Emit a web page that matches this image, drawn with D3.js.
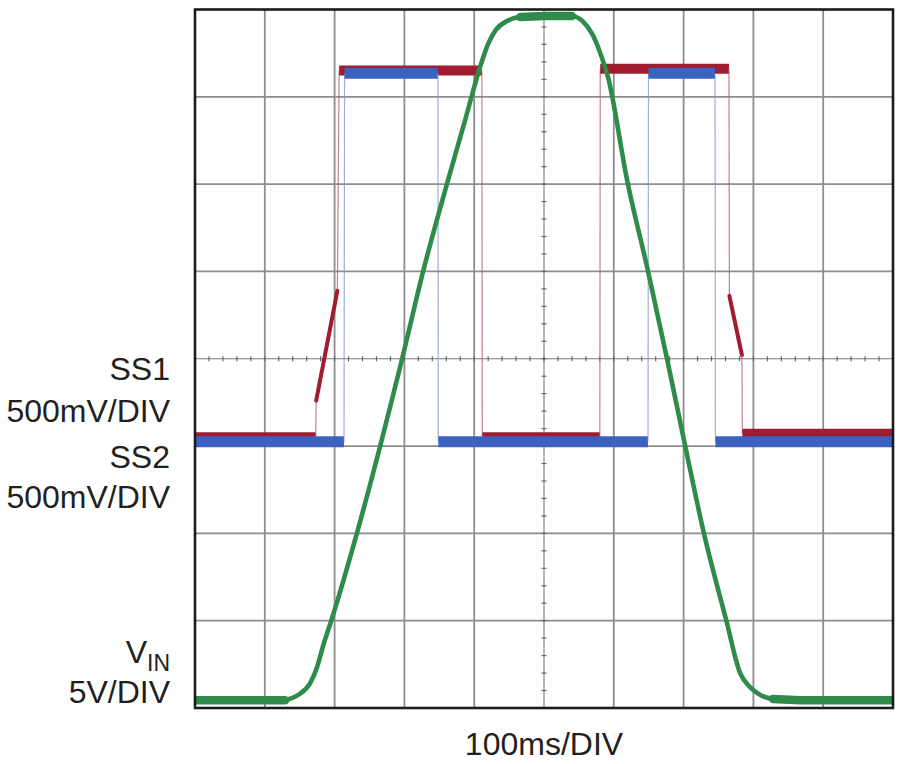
<!DOCTYPE html>
<html><head><meta charset="utf-8">
<script src="https://cdn.jsdelivr.net/npm/d3@7"></script>
<style>
body{margin:0;background:#fff;}
svg{display:block;font-family:"Liberation Sans",Arial,Helvetica,sans-serif;}
</style>
</head><body>
<svg id="chart" width="900" height="764"></svg>
<script>
// ---- data (time in ms, values in volts) ----
const timeTicks = d3.range(0, 1001, 100);   // 100ms/DIV, 10 divisions
const divTicks = d3.range(0, 9, 1);          // 8 vertical divisions
const minorDivs = d3.range(0, 8.001, 0.2);
const minorTimes = d3.range(0, 1000.1, 20);

const ss1 = [[0,0],[173,0],[173.6,0.21],[204,0.84],[206.5,2.10],[411,2.10],[411.6,0],
             [580,0],[580.6,2.11],[765,2.11],[765.6,0.81],[783.6,0.47],[784.2,0.02],[1000,0.02]];
const ss2 = [[0,0],[213.5,0],[214.3,2.11],[348,2.11],[348.6,0],
             [649,0],[649.7,2.11],[745,2.11],[745.6,0],[1000,0]];
const vin = [[0,0],[129,0],[139,0.12],[150,0.35],[165,0.98],[175,1.90],[183,3.04],[196,4.65],[232,9.57],
             [297,19.59],[327,24.58],[361,29.56],[387,33.22],[408,36.20],[420,37.58],[431,38.38],[447,38.89],
             [466,39.12],[501,39.18],[540,39.18],[555,38.89],[569,38.15],[580,37.12],[592,35.63],[619,29.79],
             [649,24.58],[676,19.59],[702,14.61],[729,9.57],[761,4.59],[781,1.55],[795,0.75],[810,0.29],
             [828,0.07],[867,0],[1000,0]];

// channel settings: volts per division and ground offset (divisions from bottom)
const ss1Scale = {perDiv: 0.5, offset: 3.10};
const ss2Scale = {perDiv: 0.5, offset: 3.05};
const vinScale = {perDiv: 5, offset: 0.09};

const leftLabels = [
  {text: "SS1", y: 380}, {text: "500mV/DIV", y: 422},
  {text: "SS2", y: 468}, {text: "500mV/DIV", y: 508},
  {text: "5V/DIV", y: 703}
];
const timeLabel = "100ms/DIV";

// ---- layout ----
const L = 195, R = 893, T = 9.5, B = 708;
const svg = d3.select("#chart");

const x = d3.scaleLinear().domain([0, 1000]).range([L, R]);
const yDiv = d3.scaleLinear().domain([0, 8]).range([B, T]);
const chanY = c => d3.scaleLinear()
  .domain([-c.offset * c.perDiv, (8 - c.offset) * c.perDiv]).range([B, T]);

// grid
const grid = svg.append("g");
grid.selectAll("line.v").data(timeTicks.filter(t => t > 0 && t < 1000 && t !== 500)).join("line")
  .attr("x1", d => x(d)).attr("x2", d => x(d)).attr("y1", T).attr("y2", B)
  .attr("stroke", "#8d8d8d").attr("stroke-width", 1.8);
grid.selectAll("line.h").data(divTicks.filter(d => d > 0 && d < 8 && d !== 4)).join("line")
  .attr("x1", L).attr("x2", R).attr("y1", d => yDiv(d)).attr("y2", d => yDiv(d))
  .attr("stroke", "#8d8d8d").attr("stroke-width", 1.8);

// center lines with minor ticks
grid.append("line").attr("x1", x(500)).attr("x2", x(500)).attr("y1", T).attr("y2", B)
  .attr("stroke", "#7a7a7a").attr("stroke-width", 1.1);
grid.append("line").attr("x1", L).attr("x2", R).attr("y1", yDiv(4)).attr("y2", yDiv(4))
  .attr("stroke", "#7a7a7a").attr("stroke-width", 1.1);
grid.selectAll("line.mh").data(minorTimes).join("line")
  .attr("x1", d => x(d)).attr("x2", d => x(d)).attr("y1", yDiv(4) - 2.5).attr("y2", yDiv(4) + 2.5)
  .attr("stroke", "#666").attr("stroke-width", 1.2);
grid.selectAll("line.mv").data(minorDivs).join("line")
  .attr("x1", x(500) - 2.5).attr("x2", x(500) + 2.5).attr("y1", d => yDiv(d)).attr("y2", d => yDiv(d))
  .attr("stroke", "#666").attr("stroke-width", 1.2);

// clip
svg.append("clipPath").attr("id", "clip").append("rect")
  .attr("x", L).attr("y", T).attr("width", R - L).attr("height", B - T);
const plot = svg.append("g").attr("clip-path", "url(#clip)");

// split a trace into runs of edge / flat / ramp segments (in pixel space)
function runs(data, ys) {
  const pts = data.map(d => [x(d[0]), ys(d[1])]);
  const out = [];
  for (let i = 0; i < pts.length - 1; i++) {
    const [x0, y0] = pts[i], [x1, y1] = pts[i + 1];
    const dx = x1 - x0, dy = Math.abs(y1 - y0);
    const kind = dx < 2.5 ? "edge" : (dy / dx < 0.3 ? "flat" : "ramp");
    const last = out[out.length - 1];
    if (last && last.kind === kind) last.pts.push(pts[i + 1]);
    else out.push({kind, pts: [pts[i], pts[i + 1]]});
  }
  return out;
}
const line = d3.line();

function drawScope(data, ys, opt) {
  const g = plot.append("g");
  runs(data, ys).forEach(r => {
    const p = g.append("path").attr("d", line(r.pts)).attr("fill", "none")
      .attr("stroke-linejoin", "round");
    if (r.kind === "edge") {
      p.attr("stroke", opt.edgeColor).attr("stroke-width", 1.2).attr("stroke-opacity", 0.75);
    } else if (r.kind === "flat") {
      p.attr("stroke", opt.color).attr("stroke-width", opt.flatW).attr("stroke-linecap", "butt");
    } else {
      p.attr("stroke", opt.color).attr("stroke-width", opt.rampW).attr("stroke-linecap", "round");
    }
  });
}

const ss1Y = chanY(ss1Scale), ss2Y = chanY(ss2Scale), vinY = chanY(vinScale);

drawScope(ss1, ss1Y, {color: "#a01c2e", edgeColor: "#b5566a", flatW: 10, rampW: 4});
drawScope(ss2, ss2Y, {color: "#3c62c0", edgeColor: "#7d93d0", flatW: 11, rampW: 4});

// VIN: smooth curve plus thicker noisy band on flat parts
const vinG = plot.append("g");
vinG.append("path").datum(vin)
  .attr("d", d3.line().x(d => x(d[0])).y(d => vinY(d[1])).curve(d3.curveMonotoneX))
  .attr("fill", "none").attr("stroke", "#2f8b4a").attr("stroke-width", 4.6)
  .attr("stroke-linejoin", "round");
runs(vin, vinY).filter(r => r.kind === "flat").forEach(r => {
  vinG.append("path").attr("d", line(r.pts)).attr("fill", "none")
    .attr("stroke", "#2f8b4a").attr("stroke-width", 8.5).attr("stroke-linecap", "round");
});

// border
svg.append("rect").attr("x", L).attr("y", T).attr("width", R - L).attr("height", B - T)
  .attr("fill", "none").attr("stroke", "#1b1b1b").attr("stroke-width", 2.6);

// labels
const textColor = "#231f20";
svg.selectAll("text.lbl").data(leftLabels).join("text")
  .attr("x", 170).attr("y", d => d.y).attr("text-anchor", "end")
  .attr("font-size", 32).attr("fill", textColor).text(d => d.text);

const vinLabel = svg.append("text").attr("x", 170).attr("y", 663).attr("text-anchor", "end")
  .attr("font-size", 32).attr("fill", textColor);
vinLabel.append("tspan").text("V");
vinLabel.append("tspan").attr("font-size", 23).attr("dy", 8).text("IN");

svg.append("text").attr("x", x(500)).attr("y", 755).attr("text-anchor", "middle")
  .attr("font-size", 32).attr("fill", textColor).text(timeLabel);
</script>
</body></html>
